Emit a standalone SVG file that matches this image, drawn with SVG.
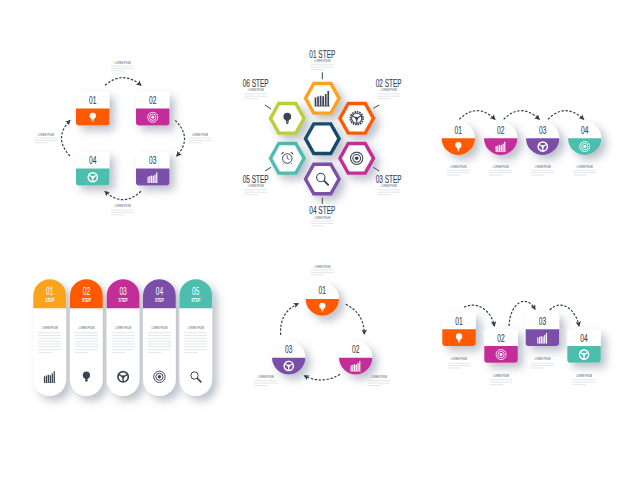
<svg xmlns="http://www.w3.org/2000/svg" width="640" height="480" viewBox="0 0 640 480">
<style>
.num{font:10.4px "Liberation Sans",Arial,sans-serif;fill:#3b4552;text-anchor:middle;stroke:#3b4552;stroke-width:.12}
.step{font:10.4px "Liberation Sans",Arial,sans-serif;fill:#3b4552;text-anchor:middle;stroke:#3b4552;stroke-width:.15}
.head{font:3.8px "Liberation Sans",Arial,sans-serif;fill:#4c545f;text-anchor:middle}
.wnum{font:10.400px "Liberation Sans",Arial,sans-serif;fill:#fff;text-anchor:middle}
.wstep{font:bold 5px "Liberation Sans",Arial,sans-serif;fill:#fff;text-anchor:middle}
.ln{stroke:#e0e2e5;stroke-width:.9;fill:none}
.cn{fill:none;stroke:#333c48;stroke-width:1.2;stroke-dasharray:2.4 1.6;marker-end:url(#ah)}
.tick{stroke:#3b4552;stroke-width:1;fill:none}
.hex{fill:#fff;stroke-width:3.4;stroke-linejoin:miter;filter:url(#sh)}
.org{color:#ff5a00}.mag{color:#c32d97}.pur{color:#7b4fa8}.tea{color:#4dbdad}.yel{color:#fba31a}
.wi{color:#fff}.di{color:#3b4552}
</style>
<defs>
<filter id="sh" x="-60%" y="-60%" width="240%" height="240%"><feDropShadow dx="5" dy="5" stdDeviation="4.500" flood-color="#5d6b82" flood-opacity=".42"/></filter>
<marker id="ah" viewBox="0 0 6 6" refX="5" refY="3" markerWidth="5.500" markerHeight="5.500" markerUnits="userSpaceOnUse" orient="auto"><path d="M0 0L6 3L0 6L1.500 3Z" fill="#333c48"/></marker>
<g id="card"><rect width="33.500" height="33.400" rx="3" fill="#fff" filter="url(#sh)"/><path d="M0 16.600H33.500V30.400a3 3 0 0 1-3 3H3a3 3 0 0 1-3-3Z" fill="currentColor"/></g>
<g id="disc"><circle r="16.700" fill="#fff" filter="url(#sh)"/><path d="M-16.700 0A16.700 16.700 0 0 0 16.700 0Z" fill="currentColor"/></g>
<g id="pill"><rect width="32.800" height="116.700" rx="16.400" fill="#fff" filter="url(#sh)"/><path d="M0 29V16.400A16.400 16.400 0 0 1 32.800 16.400V29Z" fill="currentColor"/></g>
<path id="hx" d="M-16.800 0L-8.500-14.800H8.500L16.800 0L8.500 14.800H-8.500Z"/>
<path id="l3" class="ln" d="M-11.500 0H11.500M-11.500 2.400H11.500M-11.500 4.800H2"/>
<path id="l8" class="ln" d="M-11.500 0H11.500M-11.500 2.800H11.500M-11.500 5.600H11.500M-11.500 8.400H11.500M-11.500 11.200H11.500M-11.500 14H11.500M-11.500 16.800H11.500M-11.500 19.600H2"/>
<symbol id="bulb" viewBox="0 0 20 20"><circle cx="10" cy="7.500" r="5.500" fill="currentColor"/><path d="M7.800 12h4.400v2.400H7.800zM8 15h4v1.300H8zM8.800 16.800h2.400v1.200H8.800z" fill="currentColor"/></symbol>
<symbol id="target" viewBox="0 0 20 20"><g fill="none" stroke="currentColor" stroke-width="1.500"><circle cx="10" cy="10" r="8.800"/><circle cx="10" cy="10" r="5.500"/></g><circle cx="10" cy="10" r="2.600" fill="currentColor"/></symbol>
<symbol id="chart" viewBox="0 0 20 20"><path d="M2 19V9M5 19V8M8 19V7M11 19V7.500M14 19V5M17 19V1.500" stroke="currentColor" stroke-width="2" fill="none"/><path d="M1 19.300H19" stroke="currentColor" stroke-width="1"/></symbol>
<symbol id="wheel" viewBox="0 0 20 20"><circle cx="10" cy="10" r="8" fill="none" stroke="currentColor" stroke-width="2.600"/><circle cx="10" cy="10" r="2.400" fill="currentColor"/><path d="M10 10L3.500 6.500M10 10L16.500 6.500M10 10V18" stroke="currentColor" stroke-width="2.200"/></symbol>
<symbol id="gear" viewBox="0 0 20 20"><circle cx="10" cy="10" r="8.600" fill="none" stroke="currentColor" stroke-width="2.200" stroke-dasharray="2.200 1.100"/><circle cx="10" cy="10" r="6.800" fill="none" stroke="currentColor" stroke-width="1.500"/><circle cx="10" cy="10" r="2" fill="currentColor"/><path d="M10 10L4.500 7M10 10L15.500 7M10 10V16" stroke="currentColor" stroke-width="1.600"/></symbol>
<symbol id="clock" viewBox="0 0 20 20"><circle cx="10" cy="11" r="6.800" fill="none" stroke="currentColor" stroke-width="1.400"/><path d="M10 6.500V11L13 12.500M5 17.500L3.500 19M15 17.500L16.500 19" fill="none" stroke="currentColor" stroke-width="1.100"/><path d="M1.500 5.500A3 3 0 0 1 6 2.500ZM18.500 5.500A3 3 0 0 0 14 2.500Z" fill="currentColor"/></symbol>
<symbol id="mag" viewBox="0 0 20 20"><circle cx="8" cy="8" r="5.600" fill="none" stroke="currentColor" stroke-width="1.500"/><path d="M12.200 12.200L18.500 18.500" stroke="currentColor" stroke-width="2.600"/></symbol>
</defs>
<rect width="640" height="480" fill="#fff"/>
<g id="connectors">
<path class="cn" d="M105 85.300Q122.700 70 141 85.300"/>
<path class="cn" d="M175.300 120.300Q193 138 176.700 156"/>
<path class="cn" d="M141 191.300Q122.700 208 105 191.300"/>
<path class="cn" d="M70 156Q53 138 70 120.300"/>
<path class="cn" d="M459.300 119.300Q477 102 495 119.300"/>
<path class="cn" d="M503.700 119.300Q521 102 539.300 119.300"/>
<path class="cn" d="M548 119.300Q565 102 583.700 119.300"/>
<path class="cn" d="M345.700 304.300Q364 313 364.300 334"/>
<path class="cn" d="M340 374.300Q322 385 304.300 375.700"/>
<path class="cn" d="M280.700 335Q279 312 298.300 303.700"/>
<path class="cn" d="M464 307.300C478 300 492 312 494.300 326"/>
<path class="cn" d="M509 326C510 303 526 293 535 309.300"/>
<path class="cn" d="M549.700 310C562 298 576 310 579 326"/>
</g>
<g id="ticks">
<path class="tick" d="M322.300 72.300V79.300M373.300 108.300L379.300 105M373.300 167.300L379.300 171M322.300 197.700V204M265 171L271 167.300M265 105L271 109"/>
</g>
<g id="cycle-notes">
<text class="head" x="122.700" y="64" textLength="16" lengthAdjust="spacingAndGlyphs">LOREM IPSUM</text><use href="#l3" x="122.700" y="66"/>
<text class="head" x="46" y="135.500" textLength="16" lengthAdjust="spacingAndGlyphs">LOREM IPSUM</text><use href="#l3" x="46" y="138"/>
<text class="head" x="200" y="135.500" textLength="16" lengthAdjust="spacingAndGlyphs">LOREM IPSUM</text><use href="#l3" x="200" y="138"/>
<text class="head" x="122.700" y="207" textLength="16" lengthAdjust="spacingAndGlyphs">LOREM IPSUM</text><use href="#l3" x="122.700" y="210"/>
</g>
<g id="a1" class="org" transform="translate(76,92)"><use href="#card"/><text class="num" x="16.700" y="12" textLength="7.400" lengthAdjust="spacingAndGlyphs">01</text><use href="#bulb" class="wi" x="11" y="19.500" width="11.500" height="11.500"/></g>
<g id="a2" class="mag" transform="translate(136,92)"><use href="#card"/><text class="num" x="16.700" y="12" textLength="7.400" lengthAdjust="spacingAndGlyphs">02</text><use href="#target" class="wi" x="11" y="19.500" width="11.500" height="11.500"/></g>
<g id="a3" class="pur" transform="translate(136,152)"><use href="#card"/><text class="num" x="16.700" y="12" textLength="7.400" lengthAdjust="spacingAndGlyphs">03</text><use href="#chart" class="wi" x="11" y="19.500" width="11.500" height="11.500"/></g>
<g id="a4" class="tea" transform="translate(76,152)"><use href="#card"/><text class="num" x="16.700" y="12" textLength="7.400" lengthAdjust="spacingAndGlyphs">04</text><use href="#wheel" class="wi" x="11" y="19.500" width="11.500" height="11.500"/></g>

<g id="b0" transform="translate(322.300,138.700)"><use href="#hx" class="hex" stroke="#12496f"/></g>
<g id="b1" class="yel" transform="translate(322.300,98.300)"><use href="#hx" class="hex" stroke="#fba31a"/><use href="#chart" class="di" x="-8.500" y="-8.500" width="17" height="17"/><text class="step" y="-40.500" textLength="26" lengthAdjust="spacingAndGlyphs">01 STEP</text><text class="head" y="-36" textLength="16" lengthAdjust="spacingAndGlyphs">LOREM IPSUM</text><use href="#l3" y="-33.500"/></g>
<g id="b2" transform="translate(356.700,118.300)"><use href="#hx" class="hex" stroke="#ff5a00"/><use href="#gear" class="di" x="-7.500" y="-7.500" width="15" height="15"/><text class="step" x="32" y="-31.300" textLength="26" lengthAdjust="spacingAndGlyphs">02 STEP</text><text class="head" x="32" y="-27" textLength="16" lengthAdjust="spacingAndGlyphs">LOREM IPSUM</text><use href="#l3" x="32" y="-24.500"/></g>
<g id="b3" transform="translate(356.700,158.300)"><use href="#hx" class="hex" stroke="#c32d97"/><use href="#target" class="di" x="-7" y="-7" width="14" height="14"/><text class="step" x="32" y="24.700" textLength="26" lengthAdjust="spacingAndGlyphs">03 STEP</text><text class="head" x="32" y="29" textLength="16" lengthAdjust="spacingAndGlyphs">LOREM IPSUM</text><use href="#l3" x="32" y="31.500"/></g>
<g id="b4" transform="translate(322.300,179)"><use href="#hx" class="hex" stroke="#7b4fa8"/><use href="#mag" class="di" x="-7.500" y="-7.500" width="15" height="15"/><text class="step" y="35" textLength="26" lengthAdjust="spacingAndGlyphs">04 STEP</text><text class="head" y="39.500" textLength="16" lengthAdjust="spacingAndGlyphs">LOREM IPSUM</text><use href="#l3" y="42"/></g>
<g id="b5" transform="translate(287.300,158.300)"><use href="#hx" class="hex" stroke="#4dbdad"/><use href="#clock" class="di" x="-7" y="-7.500" width="14" height="14"/><text class="step" x="-31.600" y="24.700" textLength="26" lengthAdjust="spacingAndGlyphs">05 STEP</text><text class="head" x="-31.600" y="29" textLength="16" lengthAdjust="spacingAndGlyphs">LOREM IPSUM</text><use href="#l3" x="-31.600" y="31.500"/></g>
<g id="b6" transform="translate(287.300,118.300)"><use href="#hx" class="hex" stroke="#b9cf35"/><use href="#bulb" class="di" x="-7" y="-7" width="14" height="14"/><text class="step" x="-31.600" y="-31.300" textLength="26" lengthAdjust="spacingAndGlyphs">06 STEP</text><text class="head" x="-31.600" y="-27" textLength="16" lengthAdjust="spacingAndGlyphs">LOREM IPSUM</text><use href="#l3" x="-31.600" y="-24.500"/></g>

<g id="c1" class="org" transform="translate(458.300,138.300)"><use href="#disc"/><text class="num" y="-4.700" textLength="7.400" lengthAdjust="spacingAndGlyphs">01</text><use href="#bulb" class="wi" x="-5.700" y="2.500" width="11.500" height="11.500"/><text class="head" y="29.300" textLength="16" lengthAdjust="spacingAndGlyphs">LOREM IPSUM</text><use href="#l3" y="32"/></g>
<g id="c2" class="mag" transform="translate(500.700,138.300)"><use href="#disc"/><text class="num" y="-4.700" textLength="7.400" lengthAdjust="spacingAndGlyphs">02</text><use href="#chart" class="wi" x="-5.700" y="2.500" width="11.500" height="11.500"/><text class="head" y="29.300" textLength="16" lengthAdjust="spacingAndGlyphs">LOREM IPSUM</text><use href="#l3" y="32"/></g>
<g id="c3" class="pur" transform="translate(542.700,138.300)"><use href="#disc"/><text class="num" y="-4.700" textLength="7.400" lengthAdjust="spacingAndGlyphs">03</text><use href="#wheel" class="wi" x="-5.700" y="2.500" width="11.500" height="11.500"/><text class="head" y="29.300" textLength="16" lengthAdjust="spacingAndGlyphs">LOREM IPSUM</text><use href="#l3" y="32"/></g>
<g id="c4" class="tea" transform="translate(584.700,138.300)"><use href="#disc"/><text class="num" y="-4.700" textLength="7.400" lengthAdjust="spacingAndGlyphs">04</text><use href="#target" class="wi" x="-5.700" y="2.500" width="11.500" height="11.500"/><text class="head" y="29.300" textLength="16" lengthAdjust="spacingAndGlyphs">LOREM IPSUM</text><use href="#l3" y="32"/></g>

<g id="d1" class="yel" transform="translate(33.300,279.300)"><use href="#pill"/><text class="wnum" x="16.400" y="15.700" textLength="7.400" lengthAdjust="spacingAndGlyphs">01</text><text class="wstep" x="16.400" y="22.500" textLength="9" lengthAdjust="spacingAndGlyphs">STEP</text><text class="head" x="16.400" y="50" textLength="16" lengthAdjust="spacingAndGlyphs">LOREM IPSUM</text><use href="#l8" x="16.400" y="53.500"/><use href="#chart" class="di" x="9.900" y="91" width="13" height="13"/></g>
<g id="d2" class="org" transform="translate(70,279.300)"><use href="#pill"/><text class="wnum" x="16.400" y="15.700" textLength="7.400" lengthAdjust="spacingAndGlyphs">02</text><text class="wstep" x="16.400" y="22.500" textLength="9" lengthAdjust="spacingAndGlyphs">STEP</text><text class="head" x="16.400" y="50" textLength="16" lengthAdjust="spacingAndGlyphs">LOREM IPSUM</text><use href="#l8" x="16.400" y="53.500"/><use href="#bulb" class="di" x="9.900" y="91" width="13" height="13"/></g>
<g id="d3" class="mag" transform="translate(106.700,279.300)"><use href="#pill"/><text class="wnum" x="16.400" y="15.700" textLength="7.400" lengthAdjust="spacingAndGlyphs">03</text><text class="wstep" x="16.400" y="22.500" textLength="9" lengthAdjust="spacingAndGlyphs">STEP</text><text class="head" x="16.400" y="50" textLength="16" lengthAdjust="spacingAndGlyphs">LOREM IPSUM</text><use href="#l8" x="16.400" y="53.500"/><use href="#wheel" class="di" x="9.900" y="91" width="13" height="13"/></g>
<g id="d4" class="pur" transform="translate(143,279.300)"><use href="#pill"/><text class="wnum" x="16.400" y="15.700" textLength="7.400" lengthAdjust="spacingAndGlyphs">04</text><text class="wstep" x="16.400" y="22.500" textLength="9" lengthAdjust="spacingAndGlyphs">STEP</text><text class="head" x="16.400" y="50" textLength="16" lengthAdjust="spacingAndGlyphs">LOREM IPSUM</text><use href="#l8" x="16.400" y="53.500"/><use href="#target" class="di" x="9.900" y="91" width="13" height="13"/></g>
<g id="d5" class="tea" transform="translate(179.400,279.300)"><use href="#pill"/><text class="wnum" x="16.400" y="15.700" textLength="7.400" lengthAdjust="spacingAndGlyphs">05</text><text class="wstep" x="16.400" y="22.500" textLength="9" lengthAdjust="spacingAndGlyphs">STEP</text><text class="head" x="16.400" y="50" textLength="16" lengthAdjust="spacingAndGlyphs">LOREM IPSUM</text><use href="#l8" x="16.400" y="53.500"/><use href="#mag" class="di" x="9.900" y="91" width="13" height="13"/></g>

<g id="e1" class="org" transform="translate(322.300,299)"><use href="#disc"/><text class="num" y="-4.700" textLength="7.400" lengthAdjust="spacingAndGlyphs">01</text><use href="#bulb" class="wi" x="-5.700" y="2.500" width="11.500" height="11.500"/><text class="head" y="-31" textLength="16" lengthAdjust="spacingAndGlyphs">LOREM IPSUM</text><use href="#l3" y="-29"/></g>
<g id="e2" class="mag" transform="translate(355.700,357.700)"><use href="#disc"/><text class="num" y="-4.700" textLength="7.400" lengthAdjust="spacingAndGlyphs">02</text><use href="#chart" class="wi" x="-5.700" y="2.500" width="11.500" height="11.500"/><text class="head" x="23.300" y="20" textLength="16" lengthAdjust="spacingAndGlyphs">LOREM IPSUM</text><use href="#l3" x="23.300" y="23"/></g>
<g id="e3" class="pur" transform="translate(288.700,357.700)"><use href="#disc"/><text class="num" y="-4.700" textLength="7.400" lengthAdjust="spacingAndGlyphs">03</text><use href="#wheel" class="wi" x="-5.700" y="2.500" width="11.500" height="11.500"/><text class="head" x="-23" y="20" textLength="16" lengthAdjust="spacingAndGlyphs">LOREM IPSUM</text><use href="#l3" x="-23" y="23"/></g>

<g id="f1" class="org" transform="translate(442.300,312.700)"><use href="#card"/><text class="num" x="16.700" y="12.300" textLength="7.400" lengthAdjust="spacingAndGlyphs">01</text><use href="#bulb" class="wi" x="11" y="19.500" width="11.500" height="11.500"/><text class="head" x="16.700" y="47.500" textLength="16" lengthAdjust="spacingAndGlyphs">LOREM IPSUM</text><use href="#l3" x="16.700" y="50.500"/></g>
<g id="f2" class="mag" transform="translate(484.300,329.300)"><use href="#card"/><text class="num" x="16.700" y="12.300" textLength="7.400" lengthAdjust="spacingAndGlyphs">02</text><use href="#target" class="wi" x="11" y="19.500" width="11.500" height="11.500"/><text class="head" x="16.700" y="47.500" textLength="16" lengthAdjust="spacingAndGlyphs">LOREM IPSUM</text><use href="#l3" x="16.700" y="50.500"/></g>
<g id="f3" class="pur" transform="translate(525.700,312.700)"><use href="#card"/><text class="num" x="16.700" y="12.300" textLength="7.400" lengthAdjust="spacingAndGlyphs">03</text><use href="#chart" class="wi" x="11" y="19.500" width="11.500" height="11.500"/><text class="head" x="16.700" y="47.500" textLength="16" lengthAdjust="spacingAndGlyphs">LOREM IPSUM</text><use href="#l3" x="16.700" y="50.500"/></g>
<g id="f4" class="tea" transform="translate(567.300,329.300)"><use href="#card"/><text class="num" x="16.700" y="12.300" textLength="7.400" lengthAdjust="spacingAndGlyphs">04</text><use href="#wheel" class="wi" x="11" y="19.500" width="11.500" height="11.500"/><text class="head" x="16.700" y="47.500" textLength="16" lengthAdjust="spacingAndGlyphs">LOREM IPSUM</text><use href="#l3" x="16.700" y="50.500"/></g>
</svg>
